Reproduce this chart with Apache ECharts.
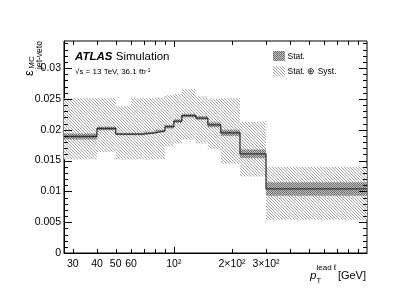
<!DOCTYPE html>
<html><head><meta charset="utf-8">
<script src="https://cdn.jsdelivr.net/npm/echarts@6/dist/echarts.min.js"></script>
<style>html,body{margin:0;padding:0;background:#fff}#c{width:399px;height:308px}</style>
</head><body><div id="c"></div>
<script>
// ---- data ----
const binEdges = [27, 40, 50, 60, 70, 80, 90, 100, 110, 130, 150, 175, 220, 300, 1000];
const central  = [0.0189, 0.0202, 0.0193, 0.0193, 0.0195, 0.0198, 0.0205, 0.0214, 0.0223, 0.0219, 0.0208, 0.0195, 0.0161, 0.0104];
const statErr  = [0.0005, 0.0003, 0.0002, 0.0002, 0.0002, 0.0002, 0.0003, 0.0003, 0.0003, 0.0003, 0.0004, 0.0005, 0.0007, 0.0011];
const systHigh = [0.0251, 0.0251, 0.0238, 0.0251, 0.0251, 0.0252, 0.0256, 0.0258, 0.0266, 0.0254, 0.0250, 0.0251, 0.0213, 0.0140];
const systLow  = [0.0152, 0.0164, 0.0152, 0.0152, 0.0152, 0.0153, 0.0173, 0.0178, 0.0184, 0.0178, 0.0169, 0.0145, 0.0124, 0.0054];
const xTickValues = [30, 40, 50, 60, 70, 80, 90, 100, 200, 300, 400, 500, 600, 700, 800, 900];
const xMajorTicks = [100];
const xLabelValues = [30, 40, 50, 60, 100, 200, 300];
const xLabelTexts  = ['30', '40', '50', '60', '10²', '2×10²', '3×10²'];
const yTickValues = [0, 0.001, 0.002, 0.003, 0.004, 0.005, 0.006, 0.007, 0.008, 0.009, 0.010, 0.011, 0.012, 0.013, 0.014, 0.015, 0.016, 0.017, 0.018, 0.019, 0.020, 0.021, 0.022, 0.023, 0.024, 0.025, 0.026, 0.027, 0.028, 0.029, 0.030, 0.031, 0.032, 0.033, 0.034];
const yMajorTicks = [0, 0.005, 0.010, 0.015, 0.020, 0.025, 0.030];
const yLabelTexts = ['0', '0.005', '0.01', '0.015', '0.02', '0.025', '0.03'];
const XMIN = 27, XMAX = 1000, YMIN = 0, YMAX = 0.0344;

const FONT = '"Liberation Sans", Arial, Helvetica, sans-serif';

function makePattern(size, draw) {
  const c = document.createElement('canvas');
  c.width = size; c.height = size;
  const g = c.getContext('2d');
  draw(g);
  return { image: c, repeat: 'repeat' };
}
const systFill = makePattern(3, g => {
  g.fillStyle = '#ffffff'; g.fillRect(0, 0, 3, 3);
  g.fillStyle = '#a2a2a2';
  for (let i = 0; i < 3; i++) g.fillRect(i, i, 1, 1);
});
const statFill = makePattern(2, g => {
  g.fillStyle = '#c0c0c0'; g.fillRect(0, 0, 2, 2);
  g.fillStyle = '#6e6e6e'; g.fillRect(0, 0, 1, 1); g.fillRect(1, 1, 1, 1);
});

function bandSeries(name, fill, low, high, z) {
  return {
    type: 'custom', name, z, silent: true,
    data: central.map((c, i) => [binEdges[i], binEdges[i + 1], low[i], high[i]]),
    encode: { x: [0, 1], y: [2, 3] },
    renderItem: (params, api) => {
      const p0 = api.coord([api.value(0), api.value(3)]);
      const p1 = api.coord([api.value(1), api.value(2)]);
      return { type: 'rect', shape: { x: p0[0], y: p0[1], width: p1[0] - p0[0], height: p1[1] - p0[1] }, style: { fill } };
    }
  };
}
const statLow = central.map((c, i) => c - statErr[i]);
const statHigh = central.map((c, i) => c + statErr[i]);

const stepData = [];
central.forEach((c, i) => { stepData.push([binEdges[i], c]); stepData.push([binEdges[i + 1], c]); });

const crisp = v => Math.round(v) + 0.5;

const chart = echarts.init(document.getElementById('c'), null, { renderer: 'canvas' });
chart.setOption({
  animation: false,
  backgroundColor: '#fff',
  grid: { left: 64, top: 41, width: 303, height: 212, show: true, borderColor: '#000', borderWidth: 1, backgroundColor: 'transparent' },
  xAxis: {
    type: 'log', logBase: 10, min: XMIN, max: XMAX,
    axisLine: { show: true, onZero: false, lineStyle: { color: '#000', width: 1 } },
    axisTick: { show: false }, axisLabel: { show: false }, splitLine: { show: false }
  },
  yAxis: {
    type: 'value', min: YMIN, max: YMAX, interval: 0.005,
    axisLine: { show: true, lineStyle: { color: '#000', width: 1 } },
    axisTick: { show: false }, splitLine: { show: false },
    axisLabel: {
      show: true, margin: 3, color: '#000', fontSize: 10.5, fontFamily: FONT, showMaxLabel: false,
      formatter: v => { const k = Math.round(v / 0.005); return Math.abs(v - k * 0.005) < 1e-9 ? (yLabelTexts[k] || '') : ''; }
    }
  },
  series: [
    bandSeries('Stat. ⊕ Syst.', systFill, systLow, systHigh, 1),
    bandSeries('Stat.', statFill, statLow, statHigh, 2),
    { type: 'line', data: stepData, symbol: 'none', silent: true, z: 5, lineStyle: { color: '#333', width: 1.3 } },
    { // x ticks (bottom and top, inside)
      type: 'custom', z: 6, silent: true,
      data: xTickValues.map(v => [v, YMIN]),
      renderItem: (params, api) => {
        const v = api.value(0);
        const b = api.coord([v, YMIN]), t = api.coord([v, YMAX]);
        const len = xMajorTicks.includes(v) ? 6 : 4;
        const x = crisp(b[0]);
        return { type: 'group', children: [
          { type: 'line', shape: { x1: x, y1: b[1], x2: x, y2: b[1] - len }, style: { stroke: '#000', lineWidth: 1 } },
          { type: 'line', shape: { x1: x, y1: t[1], x2: x, y2: t[1] + len }, style: { stroke: '#000', lineWidth: 1 } }
        ] };
      }
    },
    { // y ticks (left and right, inside)
      type: 'custom', z: 6, silent: true,
      data: yTickValues.map(v => [XMIN, v]),
      renderItem: (params, api) => {
        const v = api.value(1);
        const l = api.coord([XMIN, v]), r = api.coord([XMAX, v]);
        const major = yMajorTicks.some(m => Math.abs(m - v) < 1e-9);
        const len = major ? 8 : 4;
        const y = crisp(l[1]);
        return { type: 'group', children: [
          { type: 'line', shape: { x1: l[0], y1: y, x2: l[0] + len, y2: y }, style: { stroke: '#000', lineWidth: 1 } },
          { type: 'line', shape: { x1: r[0], y1: y, x2: r[0] - len, y2: y }, style: { stroke: '#000', lineWidth: 1 } }
        ] };
      }
    },
    { // x tick labels
      type: 'custom', z: 6, silent: true,
      data: xLabelValues.map(v => [v, YMIN]),
      renderItem: (params, api) => {
        const p = api.coord([api.value(0), YMIN]);
        return { type: 'text', x: p[0], y: p[1] + 11, style: { text: xLabelTexts[params.dataIndex], align: 'center', verticalAlign: 'middle', fontSize: 10.5, fontFamily: FONT, fill: '#000' } };
      }
    }
  ],
  graphic: [
    { type: 'text', left: 75, top: 51, style: { text: '{a|ATLAS} {b|Simulation}', rich: {
      a: { fontSize: 11.5, fontWeight: 'bold', fontStyle: 'italic', fontFamily: FONT, fill: '#000' },
      b: { fontSize: 11.5, fontFamily: FONT, fill: '#000' } } } },
    { type: 'text', left: 75, top: 67, style: { text: '√s = 13 TeV, 36.1 fb{s|-1}', fontSize: 8, fontFamily: FONT, fill: '#000', rich: {
      s: { fontSize: 5.5, fontFamily: FONT, fill: '#000', verticalAlign: 'top', lineHeight: 10 } } } },
    { type: 'rect', shape: { x: 273, y: 51, width: 12, height: 10 }, style: { fill: statFill } },
    { type: 'text', x: 287.5, y: 56.5, style: { text: 'Stat.', fontSize: 8.5, fontFamily: FONT, fill: '#000', verticalAlign: 'middle' } },
    { type: 'rect', shape: { x: 273, y: 66.5, width: 12, height: 10 }, style: { fill: systFill } },
    { type: 'text', x: 287.5, y: 72, style: { text: 'Stat. ⊕ Syst.', fontSize: 8.5, fontFamily: FONT, fill: '#000', verticalAlign: 'middle' } },
    // y axis title (rotated, reads bottom to top)
    { type: 'text', x: 29, y: 73, rotation: Math.PI / 2, style: { text: 'ε', fontSize: 13, fontFamily: FONT, fill: '#000', align: 'center', verticalAlign: 'middle' } },
    { type: 'text', x: 32, y: 62.5, rotation: Math.PI / 2, style: { text: 'MC', fontSize: 8, fontFamily: FONT, fill: '#000', align: 'center', verticalAlign: 'middle' } },
    { type: 'text', x: 39.5, y: 55, rotation: Math.PI / 2, style: { text: 'jet-veto', fontSize: 8.5, fontFamily: FONT, fill: '#000', align: 'center', verticalAlign: 'middle' } },
    // x axis title
    { type: 'text', x: 310, y: 276, style: { text: 'p', fontSize: 11.5, fontStyle: 'italic', fontFamily: FONT, fill: '#000', verticalAlign: 'middle' } },
    { type: 'text', x: 316.5, y: 281, style: { text: 'T', fontSize: 7.5, fontFamily: FONT, fill: '#000', verticalAlign: 'middle' } },
    { type: 'text', x: 316.5, y: 267.5, style: { text: 'lead ℓ', fontSize: 8, fontFamily: FONT, fill: '#000', verticalAlign: 'middle' } },
    { type: 'text', x: 366, y: 276, style: { text: '[GeV]', fontSize: 11, fontFamily: FONT, fill: '#000', align: 'right', verticalAlign: 'middle' } }
  ]
});
</script></body></html>
